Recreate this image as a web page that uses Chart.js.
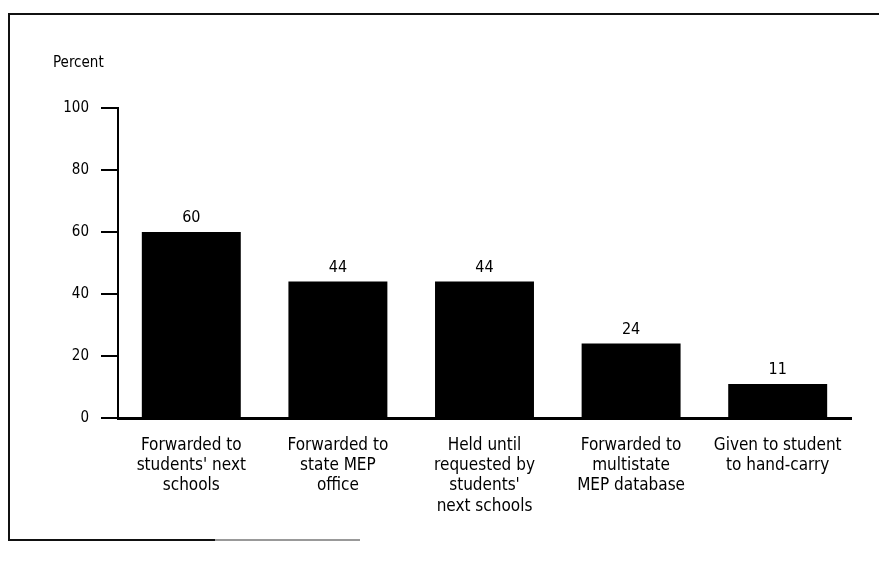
<!DOCTYPE html>
<html>
<head>
<meta charset="utf-8">
<script src="https://cdn.jsdelivr.net/npm/chart.js@4/dist/chart.umd.min.js"></script>
<style>
  body { margin: 0; background: #fff; }
  #wrap { width: 879px; height: 562px; }
</style>
</head>
<body>
<div id="wrap"><canvas id="recordsChart" width="879" height="562"></canvas></div>
<script>
// what happens to student records when a migrant student moves
const categories = [
    ['Forwarded to', "students' next", 'schools'],
    ['Forwarded to', 'state MEP', 'office'],
    ['Held until', 'requested by', "students'", 'next schools'],
    ['Forwarded to', 'multistate', 'MEP database'],
    ['Given to student', 'to hand-carry']
];
const percents = [60, 44, 44, 24, 11];
const yTicks = [0, 20, 40, 60, 80, 100];

const FONT = "'Liberation Sans Narrow', 'DejaVu Sans Condensed', sans-serif";

// value printed above each bar
const barValues = {
    id: 'barValues',
    afterDatasetsDraw(chart) {
        const ctx = chart.ctx;
        const meta = chart.getDatasetMeta(0);
        ctx.save();
        ctx.fillStyle = '#000';
        ctx.font = '16px ' + FONT;
        ctx.textAlign = 'center';
        ctx.textBaseline = 'alphabetic';
        meta.data.forEach((bar, i) => {
            ctx.fillText(String(percents[i]), bar.x, bar.y - 10);
        });
        ctx.restore();
    }
};

// box rule around the figure (top, left and part of the bottom)
const frame = {
    id: 'frame',
    beforeDraw(chart) {
        const ctx = chart.ctx;
        ctx.save();
        ctx.strokeStyle = '#111';
        ctx.lineWidth = 2;
        ctx.beginPath();
        ctx.moveTo(879, 14);
        ctx.lineTo(9, 14);
        ctx.lineTo(9, 540);
        ctx.lineTo(215, 540);
        ctx.stroke();
        ctx.strokeStyle = '#999';
        ctx.beginPath();
        ctx.moveTo(215, 540);
        ctx.lineTo(360, 540);
        ctx.stroke();
        ctx.restore();
    }
};

new Chart(document.getElementById('recordsChart'), {
    type: 'bar',
    data: {
        labels: categories,
        datasets: [{
            data: percents,
            backgroundColor: '#000',
            borderWidth: 0,
            categoryPercentage: 1,
            barPercentage: 0.675
        }]
    },
    options: {
        responsive: false,
        animation: false,
        events: [],
        layout: { padding: { left: 53, right: 28, top: 0, bottom: 0 } },
        plugins: {
            legend: { display: false },
            tooltip: { enabled: false },
            title: {
                display: true,
                text: 'Percent',
                align: 'start',
                color: '#000',
                font: { family: FONT, size: 15, weight: 'normal', lineHeight: 1.2 },
                padding: { top: 54, bottom: 36 }
            }
        },
        scales: {
            x: {
                grid: { display: false, drawTicks: false, tickLength: 0 },
                border: { display: true, color: '#000', width: 3 },
                ticks: {
                    color: '#000',
                    padding: 17,
                    maxRotation: 0,
                    autoSkip: false,
                    font: { family: FONT, size: 17, lineHeight: 1.2 }
                },
                afterFit(axis) { axis.height = 144; }
            },
            y: {
                min: 0,
                max: 100,
                afterBuildTicks(axis) { axis.ticks = yTicks.map(v => ({ value: v })); },
                grid: {
                    drawOnChartArea: false,
                    drawTicks: true,
                    tickLength: 17,
                    color: '#000',
                    lineWidth: 2
                },
                border: { display: true, color: '#000', width: 2 },
                ticks: {
                    color: '#000',
                    padding: 12,
                    font: { family: FONT, size: 15 }
                },
                afterFit(axis) { axis.width = 65; }
            }
        }
    },
    plugins: [frame, barValues]
});
</script>
</body>
</html>
